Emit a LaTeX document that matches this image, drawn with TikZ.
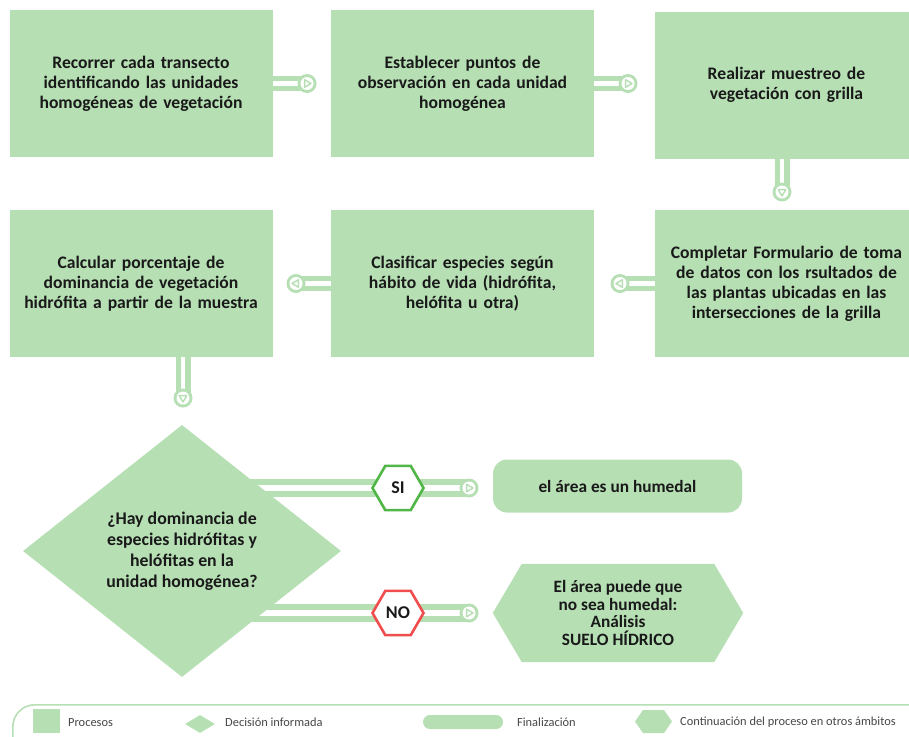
\documentclass[tikz,border=0pt]{standalone}
\usepackage{fontspec}
\setmainfont{Carlito}
\usetikzlibrary{shapes.geometric,calc,backgrounds}

\definecolor{leaf}{RGB}{182,223,180}
\definecolor{okgreen}{RGB}{80,182,70}
\definecolor{nored}{RGB}{240,78,78}
\definecolor{ink}{RGB}{25,25,25}
\definecolor{legendink}{RGB}{70,70,70}

% round end of a connector: green disc with a white hole
\newcommand\tipdisc[1]{\fill[leaf] (#1) circle (9.5); \fill[white] (#1) circle (6.5);}
\newcommand\tipright[1]{\tipdisc{#1}\draw[tiptri] ($(#1)+(-2.4,-3.8)$) -- ++(6.4,3.8) -- ++(-6.4,3.8) -- cycle;}
\newcommand\tipleft[1]{\tipdisc{#1}\draw[tiptri] ($(#1)+(2.4,-3.8)$) -- ++(-6.4,3.8) -- ++(6.4,3.8) -- cycle;}
\newcommand\tipdown[1]{\tipdisc{#1}\draw[tiptri] ($(#1)+(-3.8,-2.4)$) -- ++(7.6,0) -- ++(-3.8,6.4) -- cycle;}

\begin{document}
\begin{tikzpicture}[x=1pt,y=-1pt,
  procbox/.style={fill=leaf, minimum width=263pt, minimum height=147pt, inner sep=0pt,
    text width=255pt, align=center, text=ink, font=\bfseries\fontsize{17.6}{20}\selectfont},
  band/.style={draw=leaf, line width=15pt},
  stripe/.style={draw=white, line width=4.5pt},
  wideband/.style={draw=leaf, line width=18pt},
  widestripe/.style={draw=white, line width=6pt},
  tiptri/.style={draw=leaf, fill=white, line width=1.4pt, line join=round},
  choice/.style={regular polygon, regular polygon sides=6, minimum size=51pt, inner sep=0pt,
    fill=white, line width=2.6pt, text=ink, font=\bfseries\fontsize{18}{20}\selectfont},
  legendtext/.style={anchor=west, inner sep=0pt, text=legendink, font=\fontsize{12.4}{14}\selectfont},
]
\useasboundingbox (0,0) rectangle (909,736);
\clip (0,0) rectangle (909,736);

% ---------- process boxes ----------
\node[procbox] (b1) at (141,83.5) {Recorrer cada transecto\\identificando las unidades\\homogéneas de vegetación};
\node[procbox] (b2) at (462.5,83.5) {Establecer puntos de\\observación en cada unidad\\homogénea};
\node[procbox] (b3) at (786.5,85) {Realizar muestreo de\\vegetación con grilla};
\node[procbox] (b4) at (141,283.5) {Calcular porcentaje de\\dominancia de vegetación\\hidrófita a partir de la muestra};
\node[procbox] (b5) at (462.5,283.5) {Clasificar especies según\\hábito de vida (hidrófita,\\helófita u otra)};
\node[procbox] (b6) at (786.5,283.5) {Completar Formulario de toma\\de datos con los rsultados de\\las plantas ubicadas en las\\intersecciones de la grilla};

% ---------- decision ----------
\node[diamond, fill=leaf, inner sep=0pt, minimum width=318pt, minimum height=252pt, aspect=1.26,
  align=center, text=ink, font=\bfseries\fontsize{17.8}{21}\selectfont] (dm) at (182,551)
  {¿Hay dominancia de\\especies hidrófitas y\\helófitas en la\\unidad homogénea?};

\node[choice, draw=okgreen] (si) at (398,488) {SI};
\node[choice, draw=nored] (no) at (398,613) {NO};

% ---------- outcomes ----------
\node[fill=leaf, rounded corners=14pt, minimum width=249pt, minimum height=53pt, inner sep=0pt,
  text=ink, font=\bfseries\fontsize{17.3}{18}\selectfont] (yes) at (617.5,486) {el área es un humedal};
\node[minimum width=250pt, minimum height=98pt, inner sep=0pt, align=center, text=ink,
  font=\bfseries\fontsize{17.3}{17.8}\selectfont] (cont) at (618,613)
  {El área puede que\\no sea humedal:\\Análisis\\SUELO HÍDRICO};

% ---------- connector end points ----------
\coordinate (t12) at (307,83.5);
\coordinate (t23) at (628,83.5);
\coordinate (t36) at (782,192);
\coordinate (t65) at (620,283.5);
\coordinate (t54) at (296,283.5);
\coordinate (t4d) at (183,398);
\coordinate (tsi) at (469,488);
\coordinate (tno) at (469,613);

\begin{scope}[on background layer]
  % hexagonal continuation shape
  \fill[leaf] (cont.west) -- ([xshift=29pt]cont.north west) -- ([xshift=-29pt]cont.north east)
    -- (cont.east) -- ([xshift=-29pt]cont.south east) -- ([xshift=29pt]cont.south west) -- cycle;
  % connectors between boxes
  \draw[band] (b1.east) -- (t12);
  \draw[stripe] (b1.east) -- ($(t12)+(-9,0)$);
  \draw[band] (b2.east) -- (t23);
  \draw[stripe] (b2.east) -- ($(t23)+(-9,0)$);
  \draw[band] (b3.south -| t36) -- (t36);
  \draw[stripe] (b3.south -| t36) -- ($(t36)+(0,-9)$);
  \draw[band] (b6.west) -- (t65);
  \draw[stripe] (b6.west) -- ($(t65)+(9,0)$);
  \draw[band] (b5.west) -- (t54);
  \draw[stripe] (b5.west) -- ($(t54)+(9,0)$);
  \draw[band] (b4.south -| t4d) -- (t4d);
  \draw[stripe] (b4.south -| t4d) -- ($(t4d)+(0,-9)$);
  % answers leaving the decision
  \draw[wideband] (dm.center |- tsi) -- (tsi);
  \draw[widestripe] (dm.center |- tsi) -- ($(tsi)+(-9,0)$);
  \draw[wideband] (dm.center |- tno) -- (tno);
  \draw[widestripe] (dm.center |- tno) -- ($(tno)+(-9,0)$);
\end{scope}

\tipright{t12}
\tipright{t23}
\tipdown{t36}
\tipleft{t65}
\tipleft{t54}
\tipdown{t4d}
\tipright{tsi}
\tipright{tno}

% ---------- legend ----------
\node[draw=leaf, line width=1.6pt, rounded corners=22pt, minimum width=930pt, minimum height=70pt,
  anchor=north west, inner sep=0pt] (legend) at (12,704) {};
\node[fill=leaf, minimum width=27pt, minimum height=24pt, inner sep=0pt] (lgbox) at (46.5,721) {};
\node[legendtext] (lgboxt) at (68,722.5) {Procesos};
\node[diamond, fill=leaf, minimum width=30pt, minimum height=18pt, inner sep=0pt, aspect=1.7] (lgdm) at (200,724) {};
\node[legendtext] (lgdmt) at (225,722.5) {Decisión informada};
\node[fill=leaf, rounded corners=7pt, minimum width=80pt, minimum height=14pt, inner sep=0pt] (lgend) at (463,722) {};
\node[legendtext] (lgendt) at (517,722.5) {Finalización};
\coordinate (lghex) at (653.5,721.5);
\fill[leaf] ($(lghex)+(-18.5,0)$) -- ++(8,-11.5) -- ++(21,0) -- ++(8,11.5) -- ++(-8,11.5) -- ++(-21,0) -- cycle;
\node[legendtext] (lghext) at (680,722.5) {Continuación del proceso en otros ámbitos};
\end{tikzpicture}
\end{document}
